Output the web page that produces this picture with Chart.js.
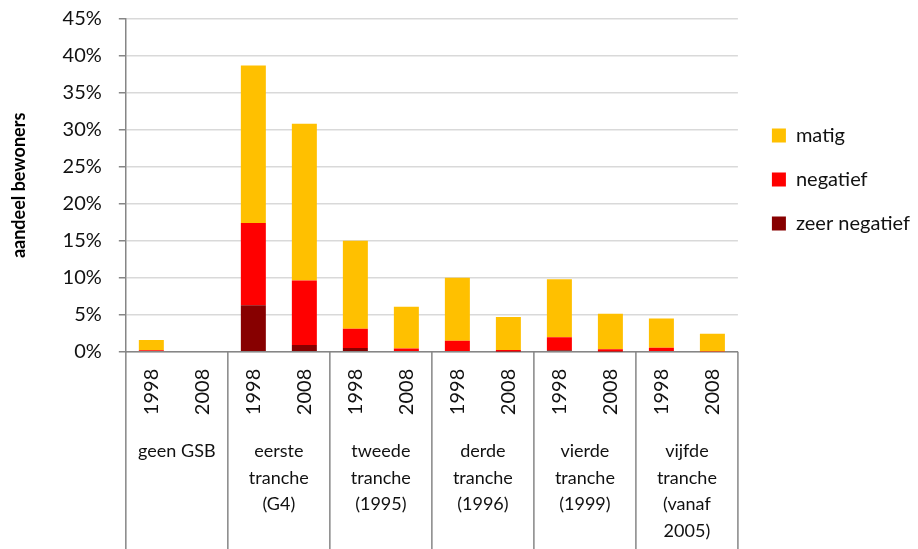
<!DOCTYPE html>
<html>
<head>
<meta charset="utf-8">
<script src="https://cdn.jsdelivr.net/npm/chart.js@4/dist/chart.umd.min.js"></script>
<style>
  html, body { margin: 0; padding: 0; background: #fff; }
  #wrap { width: 918px; height: 549px; }
</style>
</head>
<body>
<div id="wrap"><canvas id="c" width="918" height="549"></canvas></div>
<script>
const years = ['1998','2008','1998','2008','1998','2008','1998','2008','1998','2008','1998','2008'];
const groups = [
  ['geen GSB'],
  ['eerste','tranche','(G4)'],
  ['tweede','tranche','(1995)'],
  ['derde','tranche','(1996)'],
  ['vierde','tranche','(1999)'],
  ['vijfde','tranche','(vanaf','2005)']
];
const zeerNegatief = [0, 0, 6.3, 0.9, 0.5, 0.1, 0.1, 0.05, 0.2, 0.05, 0.1, 0];
const negatief     = [0.2, 0, 11.1, 8.75, 2.6, 0.35, 1.4, 0.2, 1.75, 0.3, 0.45, 0.05];
const matig        = [1.4, 0, 21.3, 21.2, 11.9, 5.65, 8.5, 4.45, 7.85, 4.8, 3.95, 2.4];
const yTicks = [0, 5, 10, 15, 20, 25, 30, 35, 40, 45];

const FONT = 'Lato, "Open Sans", sans-serif';
const AXIS = '#868686';
const TEXT = '#111';

const groupLines = {
  id: 'groupLines',
  afterDraw(chart) {
    const x = chart.scales.x, ctx = chart.ctx;
    const per = years.length / groups.length;
    ctx.save();
    ctx.strokeStyle = AXIS;
    ctx.lineWidth = 1.5;
    for (let k = 0; k <= years.length; k += per) {
      const px = x.getPixelForValue(k - 0.5);
      ctx.beginPath();
      ctx.moveTo(px, chart.chartArea.bottom);
      ctx.lineTo(px, chart.height);
      ctx.stroke();
    }
    ctx.restore();
  }
};

const legendNudge = {
  id: 'legendNudge',
  afterLayout(chart) {
    const l = chart.legend;
    if (!l) return;
    const pad = l.options.labels.padding;
    const dx = (chart.chartArea.right + 34) - (l.left + pad);
    l.left += dx; l.right += dx;
    l.top -= 6; l.bottom -= 6;
  }
};

new Chart(document.getElementById('c'), {
  type: 'bar',
  data: {
    labels: years,
    datasets: [
      { label: 'zeer negatief', data: zeerNegatief, backgroundColor: '#870000' },
      { label: 'negatief', data: negatief, backgroundColor: '#FF0000' },
      { label: 'matig', data: matig, backgroundColor: '#FFC000' }
    ]
  },
  options: {
    responsive: false,
    animation: false,
    font: { family: FONT },
    layout: { padding: { top: 19, right: 8, bottom: -1, left: 0 } },
    datasets: { bar: { barPercentage: 0.49, categoryPercentage: 1.0, borderWidth: 0 } },
    plugins: {
      tooltip: { enabled: false },
      legend: {
        position: 'right',
        fullSize: false,
        reverse: true,
        labels: {
          boxWidth: 14, boxHeight: 14, padding: 24,
          color: TEXT,
          font: { family: FONT, size: 20 }
        }
      }
    },
    scales: {
      x: {
        stacked: true,
        weight: 0,
        offset: true,
        grid: { display: false, drawTicks: false },
        border: { display: true, color: AXIS, width: 1.5 },
        ticks: {
          autoSkip: false, minRotation: 90, maxRotation: 90,
          padding: 17, color: TEXT,
          font: { family: FONT, size: 20 }
        }
      },
      x2: {
        type: 'category',
        position: 'bottom',
        labels: groups,
        weight: 1,
        offset: true,
        grid: { display: false, drawTicks: false },
        border: { display: false },
        ticks: {
          autoSkip: false, maxRotation: 0, minRotation: 0, padding: 6,
          color: TEXT,
          font: { family: FONT, size: 18, lineHeight: 1.47 }
        }
      },
      y: {
        stacked: true,
        min: 0, max: 45,
        afterBuildTicks(scale) { scale.ticks = yTicks.map(v => ({ value: v })); },
        grid: {
          color: '#d9d9d9', lineWidth: 1.5,
          tickColor: AXIS, tickLength: 24, tickBorderDash: [0, 17, 7, 60]
        },
        border: { display: true, color: AXIS, width: 1.5 },
        ticks: {
          padding: 0, color: TEXT,
          font: { family: FONT, size: 20 },
          callback: v => v + '%'
        },
        title: {
          display: true, text: 'aandeel bewoners', color: '#000',
          font: { family: FONT, size: 18, weight: 'bold' },
          padding: { top: 8, bottom: 33 }
        }
      }
    }
  },
  plugins: [groupLines, legendNudge]
});
</script>
</body>
</html>
